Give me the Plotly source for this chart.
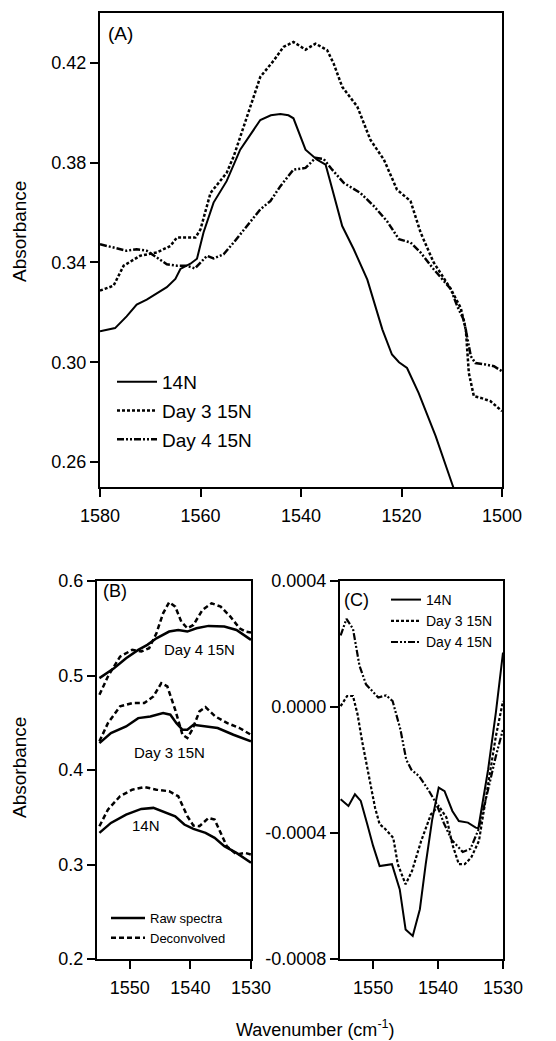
import plotly.graph_objects as go

# ---------------- Panel A data ----------------
a_14n_w = [1580, 1577, 1574.7, 1572.7, 1570.7, 1568.7, 1566.7, 1565, 1564, 1562, 1560.7, 1559.4, 1557.4,
           1554.8, 1552.1, 1548.1, 1546, 1544.1, 1542.5, 1541.5, 1539.1, 1536.8, 1535.1, 1534.2, 1531.8,
           1529.5, 1526.8, 1523.8, 1521.9, 1520.5, 1518.9, 1516.6, 1513.2, 1509.9, 1508]
a_14n_v = [0.3124, 0.3137, 0.3184, 0.3231, 0.3251, 0.3275, 0.3301, 0.3334, 0.3374, 0.3395, 0.3415, 0.352, 0.364,
           0.3726, 0.3852, 0.3971, 0.3990, 0.3995, 0.3990, 0.3978, 0.3852, 0.3812, 0.3792, 0.3726, 0.3546,
           0.3453, 0.3331, 0.3131, 0.3031, 0.300, 0.2977, 0.2877, 0.2704, 0.2511, 0.240]

a_d3_w = [1580, 1577.3, 1575.3, 1572, 1568.7, 1566, 1564.7, 1561, 1560, 1558, 1554.8, 1553.4, 1551.4, 1548.1,
          1545.4, 1543.5, 1541.5, 1539.1, 1537.1, 1534.8, 1533.5, 1531.8, 1528.8, 1526.2, 1523.5, 1520.9,
          1518.2, 1516.2, 1513.6, 1510.2, 1508.2, 1507.2, 1506.6, 1505.6, 1504.2, 1502.3, 1500]
a_d3_v = [0.3287, 0.3307, 0.3387, 0.3427, 0.344, 0.3466, 0.350, 0.350, 0.3533, 0.3679, 0.3759, 0.3825, 0.3945,
          0.4144, 0.421, 0.4264, 0.4284, 0.4253, 0.4277, 0.4251, 0.4197, 0.4104, 0.4025, 0.3892, 0.3812, 0.3692,
          0.3646, 0.352, 0.340, 0.3294, 0.3217, 0.3131, 0.2957, 0.2864, 0.2857, 0.2844, 0.2804]

a_d4_w = [1580, 1577.3, 1574.7, 1572.7, 1570.7, 1568.7, 1566.7, 1564.7, 1562.7, 1561.1, 1560, 1558.7, 1557.4,
          1555.4, 1553.4, 1550.8, 1548.1, 1546.1, 1544.1, 1541.5, 1539.1, 1537.1, 1535.5, 1533.8, 1531.5,
          1528.2, 1525.5, 1522.9, 1520.5, 1518.2, 1516.2, 1513.6, 1510.2, 1508.9, 1507.6, 1506.2, 1505.3,
          1503.3, 1501.6, 1500]
a_d4_v = [0.3473, 0.346, 0.3447, 0.3453, 0.3447, 0.342, 0.3393, 0.3387, 0.3387, 0.3376, 0.340, 0.3427, 0.3416,
          0.3433, 0.348, 0.3546, 0.3613, 0.3646, 0.3706, 0.3772, 0.3779, 0.3819, 0.3815, 0.3772, 0.3719,
          0.3679, 0.3626, 0.3566, 0.3493, 0.348, 0.344, 0.3373, 0.3294, 0.3224, 0.317, 0.3024, 0.2997,
          0.2991, 0.2984, 0.2964]

# ---------------- Panel B data ----------------
b_d4_raw_w = [1555, 1552.6, 1550.6, 1548.6, 1547.1, 1545.6, 1543.5, 1542, 1540.5, 1539, 1537, 1534.4, 1532.4, 1530]
b_d4_raw_v = [0.4972, 0.5077, 0.5183, 0.5271, 0.5324, 0.5394, 0.5465, 0.5482, 0.5465, 0.55, 0.5525, 0.5518, 0.5482, 0.5377]
b_d4_dec_w = [1555, 1553.6, 1551.6, 1549.6, 1548.1, 1546.8, 1545.6, 1544.5, 1543.5, 1542.5, 1541.5, 1540.5,
              1539.5, 1538, 1536.5, 1535, 1533.4, 1531.9, 1530.9, 1530]
b_d4_dec_v = [0.4796, 0.4989, 0.52, 0.5271, 0.5254, 0.5289, 0.5447, 0.5658, 0.5775, 0.5729, 0.557, 0.55,
              0.5535, 0.5694, 0.5764, 0.5729, 0.5623, 0.55, 0.5465, 0.5454]
b_d3_raw_w = [1555, 1553.1, 1550.6, 1548.6, 1546.6, 1544.5, 1543.3, 1542.3, 1541.3, 1540.5, 1539.5, 1537.5,
              1535.5, 1532.9, 1530]
b_d3_raw_v = [0.4285, 0.4391, 0.4461, 0.4549, 0.4567, 0.4602, 0.4585, 0.4496, 0.4426, 0.4426, 0.4479, 0.4461,
              0.4444, 0.4373, 0.4303]
b_d3_dec_w = [1555, 1553.6, 1551.6, 1549.6, 1547.6, 1546.1, 1544.8, 1543.8, 1542.5, 1541.3, 1540.5, 1539.7,
              1538.5, 1537.5, 1535.9, 1533.9, 1531.9, 1530]
b_d3_dec_v = [0.4303, 0.4496, 0.4673, 0.4708, 0.4708, 0.4778, 0.4919, 0.4884, 0.4637, 0.4373, 0.4338, 0.4426,
              0.462, 0.4665, 0.4567, 0.4496, 0.4444, 0.4373]
b_14n_raw_w = [1555, 1553.1, 1550.6, 1548.1, 1546.1, 1544, 1542.5, 1541, 1539.5, 1537.5, 1536, 1534.4, 1532.4, 1530]
b_14n_raw_v = [0.3335, 0.344, 0.3528, 0.3588, 0.3599, 0.3546, 0.3511, 0.3423, 0.3377, 0.3335, 0.3282, 0.3194,
               0.3123, 0.3018]
b_14n_dec_w = [1555, 1553.6, 1551.6, 1549.6, 1547.6, 1545.6, 1543.5, 1542, 1540.5, 1539.5, 1538.5, 1537, 1536,
               1535, 1534, 1532.4, 1531, 1530]
b_14n_dec_v = [0.3405, 0.3581, 0.3722, 0.3792, 0.382, 0.3792, 0.3775, 0.3722, 0.3511, 0.3412, 0.3405, 0.3493,
               0.3475, 0.3335, 0.3194, 0.3106, 0.3123, 0.3106]

# ---------------- Panel C data ----------------
c_14n_w = [1555, 1553.8, 1552.8, 1551.9, 1550.9, 1550, 1549, 1547.1, 1545.9, 1545, 1543.9, 1542.8, 1541.9,
           1540.9, 1539.9, 1539, 1537.8, 1536.8, 1535.4, 1534.2, 1533.8, 1532.3, 1531.1, 1530]
c_14n_v = [-0.000293, -0.000314, -0.000277, -0.000298, -0.000372, -0.000441, -0.000505, -0.000499, -0.000579,
           -0.000706, -0.000727, -0.000642, -0.000499, -0.000357, -0.000256, -0.000267, -0.00033, -0.000362,
           -0.000367, -0.000383, -0.000385, -0.0002, -0.000018, 0.000173]
c_d3_w = [1555, 1554, 1553.1, 1552.4, 1551.7, 1550.7, 1549.7, 1549, 1548.1, 1546.9, 1546.2, 1545, 1544, 1542.6,
          1541.1, 1539.9, 1538.7, 1537.8, 1536.8, 1535.9, 1534.9, 1533.7, 1532.3, 1531.1, 1530]
c_d3_v = [0.000003, 0.000035, 0.000035, -0.000023, -0.000108, -0.000214, -0.00032, -0.000372, -0.000388,
          -0.000415, -0.000499, -0.000563, -0.00052, -0.000425, -0.000341, -0.000314, -0.000351, -0.000436,
          -0.000499, -0.000499, -0.000478, -0.000425, -0.000252, -0.000093, 0.000019]
c_d4_w = [1555, 1554.1, 1553.1, 1552.1, 1551.1, 1549.2, 1548, 1547, 1545.8, 1544.9, 1544.1, 1542.9, 1541.5,
          1540.3, 1539.1, 1537.9, 1536.9, 1536.2, 1535, 1533.8, 1532.3, 1531.1, 1530]
c_d4_v = [0.000227, 0.00028, 0.000248, 0.000131, 0.000072, 0.00003, 0.000037, 0.000019, -0.000071, -0.000167,
          -0.000199, -0.00022, -0.000263, -0.000305, -0.000369, -0.000422, -0.000444, -0.00046, -0.00045,
          -0.00039, -0.000263, -0.000156, -0.000071]

# ---------------- Ticks ----------------
a_xticks = [1580, 1560, 1540, 1520, 1500]
a_yticks = [0.26, 0.30, 0.34, 0.38, 0.42]
a_yticktext = ["0.26", "0.30", "0.34", "0.38", "0.42"]
bc_xticks = [1550, 1540, 1530]
b_yticks = [0.2, 0.3, 0.4, 0.5, 0.6]
b_yticktext = ["0.2", "0.3", "0.4", "0.5", "0.6"]
c_yticks = [-0.0008, -0.0004, 0.0, 0.0004]
c_yticktext = ["-0.0008", "-0.0004", "0.0000", "0.0004"]

FONT = "Liberation Sans, Arial, sans-serif"
BLACK = "#000000"
D3_DASH = "3px,2px"
D4_DASH = "7px,2px,2px,2px,2px,2px"
DEC_DASH = "5px,3px"

fig = go.Figure()

# Panel A traces
fig.add_trace(go.Scatter(x=a_14n_w, y=a_14n_v, mode="lines", name="14N", xaxis="x", yaxis="y",
                         line=dict(color=BLACK, width=2), legend="legend", legendgroup="a1"))
fig.add_trace(go.Scatter(x=a_d3_w, y=a_d3_v, mode="lines", name="Day 3 15N", xaxis="x", yaxis="y",
                         line=dict(color=BLACK, width=2.5, dash=D3_DASH), legend="legend", legendgroup="a2"))
fig.add_trace(go.Scatter(x=a_d4_w, y=a_d4_v, mode="lines", name="Day 4 15N", xaxis="x", yaxis="y",
                         line=dict(color=BLACK, width=2.5, dash=D4_DASH), legend="legend", legendgroup="a3"))

# Panel B traces
for w, v, show in [(b_d4_raw_w, b_d4_raw_v, True), (b_d3_raw_w, b_d3_raw_v, False), (b_14n_raw_w, b_14n_raw_v, False)]:
    fig.add_trace(go.Scatter(x=w, y=v, mode="lines", name="Raw spectra", xaxis="x2", yaxis="y2",
                             line=dict(color=BLACK, width=2.5), legend="legend2", legendgroup="b1",
                             showlegend=show))
for w, v, show in [(b_d4_dec_w, b_d4_dec_v, True), (b_d3_dec_w, b_d3_dec_v, False), (b_14n_dec_w, b_14n_dec_v, False)]:
    fig.add_trace(go.Scatter(x=w, y=v, mode="lines", name="Deconvolved", xaxis="x2", yaxis="y2",
                             line=dict(color=BLACK, width=2.5, dash=DEC_DASH), legend="legend2", legendgroup="b2",
                             showlegend=show))

# Panel C traces
fig.add_trace(go.Scatter(x=c_14n_w, y=c_14n_v, mode="lines", name="14N", xaxis="x3", yaxis="y3",
                         line=dict(color=BLACK, width=2), legend="legend3", legendgroup="c1"))
fig.add_trace(go.Scatter(x=c_d3_w, y=c_d3_v, mode="lines", name="Day 3 15N", xaxis="x3", yaxis="y3",
                         line=dict(color=BLACK, width=2.2, dash=D3_DASH), legend="legend3", legendgroup="c2"))
fig.add_trace(go.Scatter(x=c_d4_w, y=c_d4_v, mode="lines", name="Day 4 15N", xaxis="x3", yaxis="y3",
                         line=dict(color=BLACK, width=2.2, dash=D4_DASH), legend="legend3", legendgroup="c3"))

W, H = 556, 1041
def px_x(p): return p / W
def px_y(p): return 1 - p / H

axis_common = dict(showline=True, linecolor=BLACK, linewidth=2, mirror=True, ticks="outside",
                   ticklen=8, tickwidth=2, tickcolor=BLACK, showgrid=False, zeroline=False,
                   automargin=False, tickfont=dict(family=FONT, size=18, color=BLACK))

fig.update_layout(
    width=W, height=H, margin=dict(l=0, r=0, t=0, b=0, pad=0, autoexpand=False),
    paper_bgcolor="white", plot_bgcolor="white",
    font=dict(family=FONT, color=BLACK),
    xaxis=dict(domain=[px_x(100), px_x(502)], anchor="y", range=[1580, 1500], tickvals=a_xticks,
               ticklabelstandoff=3, **axis_common),
    yaxis=dict(domain=[px_y(487), px_y(13)], anchor="x", range=[0.25, 0.44], tickvals=a_yticks,
               ticktext=a_yticktext, **axis_common),
    xaxis2=dict(domain=[px_x(97), px_x(251)], anchor="y2", range=[1555.4, 1530], tickvals=bc_xticks,
                ticklabelstandoff=3, **axis_common),
    yaxis2=dict(domain=[px_y(959), px_y(581)], anchor="x2", range=[0.2, 0.6], tickvals=b_yticks,
                ticktext=b_yticktext, **axis_common),
    xaxis3=dict(domain=[px_x(340), px_x(503)], anchor="y3", range=[1555.1, 1530], tickvals=bc_xticks,
                ticklabelstandoff=3, **axis_common),
    yaxis3=dict(domain=[px_y(959), px_y(581)], anchor="x3", range=[-0.0008, 0.0004], tickvals=c_yticks,
                ticktext=c_yticktext, **axis_common),
    legend=dict(x=px_x(112), y=px_y(363), xanchor="left", yanchor="top", bgcolor="rgba(0,0,0,0)",
                itemwidth=40,
                font=dict(family=FONT, size=19, color=BLACK), traceorder="grouped", tracegroupgap=1),
    legend2=dict(x=px_x(106), y=px_y(903), xanchor="left", yanchor="top", bgcolor="rgba(0,0,0,0)",
                 itemwidth=34,
                 font=dict(family=FONT, size=13, color=BLACK), traceorder="grouped", tracegroupgap=0),
    legend3=dict(x=px_x(386), y=px_y(584), xanchor="left", yanchor="top", bgcolor="rgba(0,0,0,0)",
                 font=dict(family=FONT, size=14, color=BLACK), traceorder="grouped", tracegroupgap=0),
    showlegend=True,
)

ann = []
ann.append(dict(text="(A)", xref="paper", yref="paper", x=px_x(106), y=px_y(33), xanchor="left",
                yanchor="middle", showarrow=False, font=dict(family=FONT, size=19, color=BLACK)))
ann.append(dict(text="(B)", xref="paper", yref="paper", x=px_x(101), y=px_y(591), xanchor="left",
                yanchor="middle", showarrow=False, font=dict(family=FONT, size=18, color=BLACK)))
ann.append(dict(text="(C)", xref="paper", yref="paper", x=px_x(342), y=px_y(600), xanchor="left",
                yanchor="middle", showarrow=False, font=dict(family=FONT, size=18, color=BLACK)))
ann.append(dict(text="Day 4 15N", xref="x2", yref="y2", x=1538.5, y=0.527, showarrow=False,
                xanchor="center", yanchor="middle", font=dict(family=FONT, size=15, color=BLACK)))
ann.append(dict(text="Day 3 15N", xref="x2", yref="y2", x=1543.5, y=0.418, showarrow=False,
                xanchor="center", yanchor="middle", font=dict(family=FONT, size=15, color=BLACK)))
ann.append(dict(text="14N", xref="x2", yref="y2", x=1547.3, y=0.341, showarrow=False,
                xanchor="center", yanchor="middle", font=dict(family=FONT, size=15, color=BLACK)))
ann.append(dict(text="Absorbance", xref="paper", yref="paper", x=px_x(19), y=px_y(232), textangle=-90,
                xanchor="center", yanchor="middle", showarrow=False, font=dict(family=FONT, size=19, color=BLACK)))
ann.append(dict(text="Absorbance", xref="paper", yref="paper", x=px_x(19), y=px_y(768), textangle=-90,
                xanchor="center", yanchor="middle", showarrow=False, font=dict(family=FONT, size=19, color=BLACK)))
ann.append(dict(text="Wavenumber (cm<sup>-1</sup>)", xref="paper", yref="paper", x=px_x(315), y=px_y(1028),
                xanchor="center", yanchor="middle", showarrow=False, font=dict(family=FONT, size=18, color=BLACK)))
fig.update_layout(annotations=ann)

fig.write_html("out.html")
